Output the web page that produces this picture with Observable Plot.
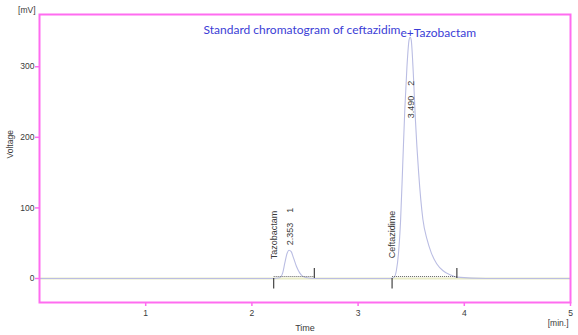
<!DOCTYPE html>
<html>
<head>
<meta charset="utf-8">
<script src="https://cdn.jsdelivr.net/npm/d3@7"></script>
<script src="https://cdn.jsdelivr.net/npm/@observablehq/plot@0.6"></script>
<style>
  html, body { margin: 0; padding: 0; background: #fff; }
</style>
</head>
<body>
<div id="chart"></div>
<script>
// Detector trace: retention time (min) and signal (mV)
const traceTime = [0, 2.20, 2.26, 2.29, 2.31, 2.33, 2.35, 2.37, 2.39, 2.42, 2.45, 2.48, 2.52, 2.58,
  3.30, 3.34, 3.36, 3.38, 3.40, 3.42, 3.44, 3.46, 3.48, 3.49, 3.50, 3.52, 3.54, 3.57, 3.61, 3.65,
  3.69, 3.74, 3.80, 3.87, 3.93, 4.20, 5.00];
const traceVoltage = [0, 0, 1, 8, 22, 35, 40, 38, 30, 17, 8, 3, 1, 0,
  0, 2, 11, 35, 82, 160, 240, 300, 338, 342, 338, 290, 224, 150, 84, 55,
  36, 21, 11, 5, 2, 0, 0];

// Integrated peaks
const peakNames = ["Tazobactam", "Ceftazidime"];
const peakNumbers = [1, 2];
const retentionTimes = [2.353, 3.490];
const peakStart = [2.205, 3.32];
const peakEnd = [2.588, 3.93];

// Axis ticks
const xTicks = [1, 2, 3, 4, 5];
const yTicks = [0, 100, 200, 300];

const title = "Standard chromatogram of ceftazidime+Tazobactam";
const titleSplit = "Standard chromatogram of ceftazidim".length;

const trace = traceTime.map((t, i) => ({time: t, mV: traceVoltage[i]}));
const peaks = peakNames.map((name, i) => {
  const inPeak = trace.filter(d => d.time >= peakStart[i] && d.time <= peakEnd[i]);
  return {
    name,
    number: peakNumbers[i],
    rt: retentionTimes[i],
    start: peakStart[i],
    end: peakEnd[i],
    apex: d3.max(inPeak, d => d.mV)
  };
});

const frameColor = "#ff6cf0";
const inkColor = "#3a3a3a";

const chart = Plot.plot({
  width: 578,
  height: 335,
  marginLeft: 39,
  marginRight: 8,
  marginTop: 14,
  marginBottom: 33,
  style: {background: "#fff", fontFamily: "Liberation Sans, Arial, sans-serif"},
  x: {domain: [0, 5]},
  y: {domain: [-34, 374]},
  marks: [
    // pale baseline under the trace
    Plot.ruleY([0], {stroke: "#e7eac6", strokeWidth: 2}),
    Plot.line(trace, {x: "time", y: "mV", stroke: "#babde3", strokeWidth: 1.1, curve: "monotone-x"}),
    // integration baselines and peak start / end markers
    Plot.link(peaks, {x1: "start", x2: "end", y1: () => 0, y2: () => 0, dy: -2,
      stroke: "#666", strokeWidth: 1.2, strokeDasharray: "1,1"}),
    Plot.ruleX(peaks, {x: "start", y1: () => 0, y2: () => -15, stroke: "#444", strokeWidth: 1.2}),
    Plot.ruleX(peaks, {x: "end", y1: () => 0, y2: () => 14, stroke: "#444", strokeWidth: 1.2}),
    // peak annotations
    Plot.text(peaks, {x: "start", y: () => 96, text: "name", rotate: -90, textAnchor: "end",
      fontSize: 9, fill: inkColor}),
    Plot.text(peaks, {x: "rt", y: d => Math.min(d.apex, 220),
      text: d => `${d.rt.toFixed(3)}\u00a0\u00a0\u00a0\u00a0${d.number}`,
      rotate: -90, textAnchor: "start", dy: -5, dx: 1, fontSize: 9, fill: inkColor}),
    // frame and axes
    Plot.frame({stroke: frameColor, strokeWidth: 2}),
    Plot.axisY(yTicks, {tickSize: 4, tickPadding: 1, stroke: frameColor, strokeWidth: 1.5,
      fill: inkColor, fontSize: 8.5, label: null}),
    Plot.axisX(xTicks, {tickSize: 4, tickPadding: 3, stroke: frameColor, strokeWidth: 1.5,
      fill: inkColor, fontSize: 8.5, label: null}),
    Plot.text(["[mV]"], {frameAnchor: "top-left", dx: -4, dy: -2, textAnchor: "end", lineAnchor: "bottom",
      fontSize: 8.5, fill: inkColor}),
    Plot.text(["[min.]"], {frameAnchor: "bottom-right", dx: -2, dy: 23, fontSize: 8.5, fill: inkColor}),
    Plot.text(["Time"], {frameAnchor: "bottom", dy: 28, fontSize: 9, fill: inkColor}),
    Plot.text(["Voltage"], {frameAnchor: "left", dx: -29, rotate: -90, fontSize: 8.5, fill: inkColor}),
    Plot.text([title], {frameAnchor: "top-left", dx: 164, dy: 11, textAnchor: "start",
      fontFamily: "Lato, sans-serif", fontSize: 12, fill: "#3b3dd6"})
  ]
});

document.getElementById("chart").appendChild(chart);

// the last letters of the title sit slightly lower
d3.select(chart).selectAll("text").filter(function () { return this.textContent === title; })
  .each(function () {
    const t = d3.select(this);
    t.text(null);
    t.append("tspan").text(title.slice(0, titleSplit));
    t.append("tspan").attr("dy", 3).text(title.slice(titleSplit));
  });
</script>
</body>
</html>
